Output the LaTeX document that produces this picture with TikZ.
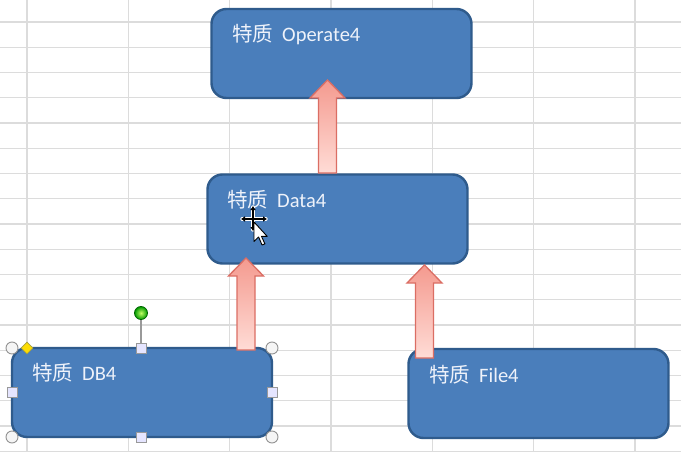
\documentclass[tikz,border=0pt]{standalone}
\usepackage{fontspec}
\usetikzlibrary{shapes.geometric,arrows.meta}
\setmainfont{Carlito}
\newfontfamily\cjk{Noto Sans CJK SC}
\definecolor{boxfill}{HTML}{4A7EBB}
\definecolor{boxdraw}{HTML}{2F5B8C}
\definecolor{gridc}{HTML}{DCDCDC}
\definecolor{arrdraw}{HTML}{DB6E64}
\definecolor{arrtop}{HTML}{F49A8F}
\definecolor{arrbot}{HTML}{FFDCD6}
\definecolor{txtc}{HTML}{EEF2FA}
\newcommand\blockup[3]{% x, ybottom, ytip
  \draw[arrdraw, line width=1.3pt, line join=miter, top color=arrtop, bottom color=arrbot]
    ({#1-9},#2) -- ({#1-9},{#3+18}) -- ({#1-17.5},{#3+18}) -- (#1,#3)
    -- ({#1+17.5},{#3+18}) -- ({#1+9},{#3+18}) -- ({#1+9},#2) -- cycle;}
\begin{document}
\begin{tikzpicture}[x=1pt,y=-1pt,
  gridline/.style={gridc, line width=1.4pt},
  box/.style={draw=boxdraw, fill=boxfill, line width=2.4pt, rounded corners=15pt,
     minimum width=260pt, minimum height=89pt, inner sep=0pt},
  lbl/.style={anchor=base west, text=txtc, font=\fontsize{20.5}{24}\selectfont, inner sep=0pt},
  cornerh/.style={circle, draw=gray!85, fill=gray!8, line width=0.9pt, minimum size=12pt, inner sep=0pt},
  sideh/.style={rectangle, draw=gray!80, fill=blue!10, line width=0.9pt, minimum size=10pt, inner sep=0pt}]
\useasboundingbox (0,0) rectangle (681,452);
\fill[white] (0,0) rectangle (681,452);
% grid
\foreach \i in {0,...,17} \draw[gridline] (0,{22+25.25*\i}) -- (681,{22+25.25*\i});
\foreach \i in {0,...,6} \draw[gridline] ({27+101.3*\i},0) -- ({27+101.3*\i},452);
% boxes
\node[box] (op) at (341.5,53.5) {};
\node[box] (data) at (337.5,219) {};
\node[box] (db) at (142,392.5) {};
\node[box] (file) at (538.5,393.5) {};
% labels
\node[lbl] (opt) at (232,42) {{\cjk 特质}\hspace{9pt}Operate4};
\node[lbl] (datat) at (227,207) {{\cjk 特质}\hspace{9pt}Data4};
\node[lbl] (dbt) at (32,380) {{\cjk 特质}\hspace{9pt}DB4};
\node[lbl] (filet) at (429,382) {{\cjk 特质}\hspace{9pt}File4};
% block arrows
\blockup{327.5}{173}{80}
\blockup{246}{350}{258}
\blockup{424.5}{358}{265}
% selection handles on DB4
\draw[gray!80, line width=1.1pt] (141,318) -- (141,344);
\node[circle, draw=green!40!black, line width=0.8pt, inner color=green!40!yellow!60, outer color=green!60!black, minimum size=13pt, inner sep=0pt] (rot) at (141,313) {};
\foreach \p/\q in {12/348, 272/348, 12/437, 272/437}
  \node[cornerh] at (\p,\q) {};
\foreach \p/\q in {141/348, 141/437, 12/392.5, 272/392.5}
  \node[sideh] at (\p,\q) {};
\node[diamond, draw=yellow!60!black, fill=yellow!80!orange, line width=0.6pt, minimum size=12pt, inner sep=0pt] (adj) at (27,348) {};
% cursor
\begin{scope}[shift={(253,219)}]
  \draw[white, line width=3.4pt, line cap=round] (-11,0) -- (13,0) (0,-12) -- (0,11);
  \draw[black, line width=1.4pt, -{Latex[length=4pt,width=6pt]}] (0,0) -- (-12,0);
  \draw[black, line width=1.4pt, -{Latex[length=4pt,width=6pt]}] (0,0) -- (14,0);
  \draw[black, line width=1.4pt, -{Latex[length=4pt,width=6pt]}] (0,0) -- (0,-13);
  \draw[black, line width=1.4pt, -{Latex[length=4pt,width=6pt]}] (0,0) -- (0,12);
\end{scope}
\begin{scope}[shift={(254,222)}, scale=1.15]
  \draw[fill=white, draw=black, line width=0.9pt, line join=round]
    (0,0) -- (0,17) -- (4,13) -- (7,20) -- (9.5,19) -- (6.5,12.5) -- (11.5,12.5) -- cycle;
\end{scope}
\end{tikzpicture}
\end{document}
